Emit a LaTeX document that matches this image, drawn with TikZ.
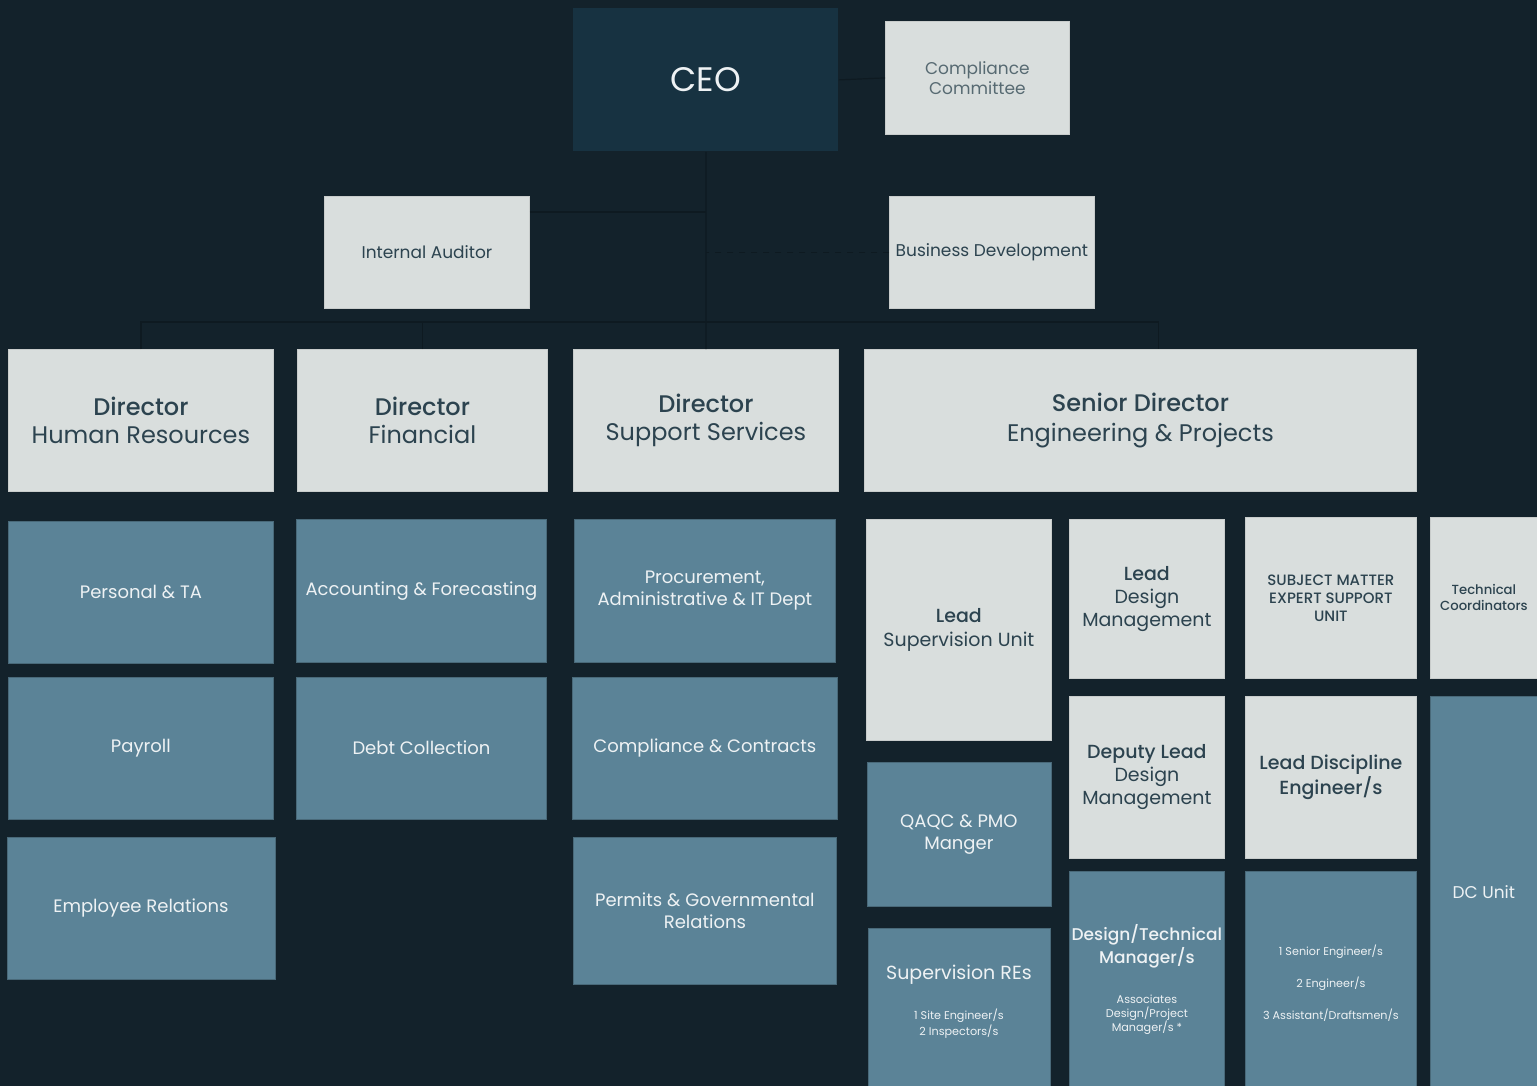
\documentclass[tikz,border=0pt]{standalone}
\usepackage{fontspec}
\setmainfont{Poppins}[BoldFont={* Medium}]
\usetikzlibrary{positioning}
\definecolor{colorBg}{HTML}{13222B}
\definecolor{colorCeo}{HTML}{173241}
\definecolor{colorLite}{HTML}{D9DEDD}
\definecolor{colorBlue}{HTML}{5B8397}
\definecolor{colorInk}{HTML}{2C434F}
\definecolor{colorPale}{HTML}{EEF2F4}
\definecolor{colorLink}{HTML}{0E1A21}
\newcommand{\headfont}{\fontsize{12}{14}\selectfont}
\newcommand{\unitfont}{\fontsize{9}{11}\selectfont}
\newcommand{\notefont}{\fontsize{5.6}{7}\selectfont}

\begin{document}
\begin{tikzpicture}[x=0.5pt,y=-0.5pt,every node/.append style={align=center},
  lite/.style={rectangle,anchor=north west,fill=colorLite,draw=colorLite!92!black,line width=0.4pt,inner sep=1pt,text=colorInk},
  blu/.style={rectangle,anchor=north west,fill=colorBlue,draw=colorBlue!80!black,line width=0.4pt,inner sep=1pt,text=colorPale,font=\unitfont},
  head/.style={lite,minimum height=71pt,font=\headfont},
  unit/.style={blu,minimum height=71pt},
  link/.style={draw=colorLink,line width=0.6pt}]
    \useasboundingbox (0,0) rectangle (1537,1086);
    \clip (0,0) rectangle (1537,1086);
    \fill[colorBg] (0,0) rectangle (1537,1086);
    % top
    \node [rectangle, anchor=north west, fill=colorCeo, text=colorPale, minimum width=132.5pt, minimum height=71.5pt, font=\fontsize{17}{20}\selectfont] (ceo) at (573,8) {CEO};
    \node [lite, minimum width=92pt, minimum height=56.5pt, font=\fontsize{8.5}{10}\selectfont, text=colorInk!75!colorLite] (comp) at (885,21) {Compliance\\Committee};
    \node [lite, minimum width=102.5pt, minimum height=56pt, font=\fontsize{8.5}{10}\selectfont] (aud) at (324,196) {Internal Auditor};
    \node [lite, minimum width=102.5pt, minimum height=56pt, font=\fontsize{8.5}{10}\selectfont] (bus) at (889,196) {Business Development};
    % directors
    \node [head, minimum width=132.5pt] (dhr) at (8,349) {\textbf{Director}\\Human Resources};
    \node [head, minimum width=125pt] (dfin) at (297,349) {\textbf{Director}\\Financial};
    \node [head, minimum width=132.5pt] (dsup) at (573,349) {\textbf{Director}\\Support Services};
    \node [head, minimum width=276pt] (sdir) at (864,349) {\textbf{Senior Director}\\[1pt]Engineering \& Projects};
    % links
    \coordinate (hub) at (706,322);
    \coordinate (audlink) at ([yshift=-8pt]aud.north east);
    \path[link] (ceo.east) edge (comp.west);
    \draw[link] (ceo.south) -- (hub);
    \draw[link] (audlink) -- (audlink -| hub);
    \draw[link, dashed] (bus.west) -- (bus.west -| hub);
    \draw[link] (dhr.north) |- (hub) -| ([xshift=9pt]sdir.north);
    \draw[link] (dfin.north) -- (dfin.north |- hub);
    \draw[link] (dsup.north) -- (hub);
    % human resources
    \node [unit, minimum width=132.5pt] (pta) at (8,521) {Personal \& TA};
    \node [unit, minimum width=132.5pt, below=6.5pt of pta] (pay) {Payroll};
    \node [unit, minimum width=134pt, below=8.5pt of pay] (emp) {Employee Relations};
    % financial
    \node [unit, minimum width=125pt, minimum height=71.5pt] (acc) at (296,519) {Accounting \& Forecasting};
    \node [unit, minimum width=125pt, below=7pt of acc] (debt) {Debt Collection};
    % support services
    \node [unit, minimum width=130.5pt, minimum height=71.5pt] (proc) at (574,519) {Procurement,\\Administrative \& IT Dept};
    \node [unit, minimum width=132.5pt, below=7pt of proc] (ccon) {Compliance \& Contracts};
    \node [unit, minimum width=131.5pt, minimum height=73.5pt, below=8.5pt of ccon] (perm) {Permits \& Governmental\\Relations};
    % engineering & projects
    \node [lite, minimum width=92.5pt, minimum height=110.5pt, font=\fontsize{9.5}{12}\selectfont] (lsup) at (866,519) {\textbf{Lead}\\Supervision Unit};
    \node [unit, minimum width=92pt, minimum height=72pt, below=10.5pt of lsup] (qaqc) {QAQC \& PMO\\Manger};
    \node [unit, minimum width=91pt, minimum height=80pt, below=10.5pt of qaqc, font=\fontsize{9.5}{12}\selectfont] (sres) {Supervision REs\\[8pt]\notefont 1 Site Engineer/s\\[-4pt]\notefont 2 Inspectors/s\\[-4pt]};
    \node [lite, minimum width=77.5pt, minimum height=79.5pt, font=\fontsize{9.5}{11.5}\selectfont] (ldes) at (1069,519) {\textbf{Lead}\\Design\\Management};
    \node [lite, minimum width=77.5pt, minimum height=81pt, below=8.5pt of ldes, font=\fontsize{9.5}{11.5}\selectfont] (dldes) {\textbf{Deputy Lead}\\Design\\Management};
    \node [unit, minimum width=77.5pt, minimum height=108.5pt, below=6pt of dldes, font=\fontsize{8.5}{10}\selectfont] (dtm) {\textbf{Design/Technical}\\\textbf{Manager/s}\\[10pt]\notefont Associates\\[-3pt]\notefont Design/Project\\[-3pt]\notefont Manager/s *};
    \node [lite, minimum width=85.5pt, minimum height=80.5pt, font=\fontsize{7.5}{9}\selectfont] (sme) at (1245,517) {\textbf{SUBJECT MATTER}\\\textbf{EXPERT SUPPORT}\\\textbf{UNIT}};
    \node [lite, minimum width=85.5pt, minimum height=81pt, below=8.5pt of sme, font=\fontsize{9.5}{11}\selectfont] (ldis) {\textbf{Lead Discipline}\\\textbf{Engineer/s}};
    \node [unit, minimum width=85.5pt, minimum height=108.5pt, below=6pt of ldis, font=\notefont] (seng) {1 Senior Engineer/s\\[9pt]2 Engineer/s\\[9pt]3 Assistant/Draftsmen/s\\[-10pt]};
    \node [lite, minimum width=53.5pt, minimum height=80.5pt, font=\fontsize{6.6}{8}\selectfont] (tcoord) at (1430,517) {\textbf{Technical}\\\textbf{Coordinators}};
    \node [unit, minimum width=53.5pt, minimum height=195.5pt, below=8.5pt of tcoord, font=\fontsize{8.5}{10}\selectfont] (dc) {DC Unit};
\end{tikzpicture}
\end{document}
